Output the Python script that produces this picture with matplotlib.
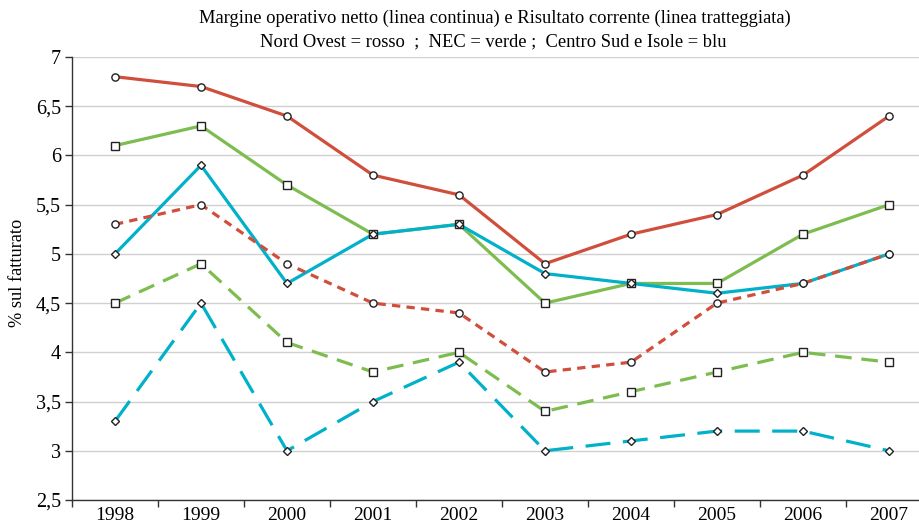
import matplotlib
matplotlib.use("Agg")
import matplotlib.pyplot as plt

years = ["1998", "1999", "2000", "2001", "2002", "2003", "2004", "2005", "2006", "2007"]

# margine operativo netto (solid)
mon_nord_ovest = [6.8, 6.7, 6.4, 5.8, 5.6, 4.9, 5.2, 5.4, 5.8, 6.4]
mon_nec = [6.1, 6.3, 5.7, 5.2, 5.3, 4.5, 4.7, 4.7, 5.2, 5.5]
mon_centro_sud = [5.0, 5.9, 4.7, 5.2, 5.3, 4.8, 4.7, 4.6, 4.7, 5.0]

# risultato corrente (dashed)
rc_nord_ovest = [5.3, 5.5, 4.9, 4.5, 4.4, 3.8, 3.9, 4.5, 4.7, 5.0]
rc_nec = [4.5, 4.9, 4.1, 3.8, 4.0, 3.4, 3.6, 3.8, 4.0, 3.9]
rc_centro_sud = [3.3, 4.5, 3.0, 3.5, 3.9, 3.0, 3.1, 3.2, 3.2, 3.0]

red = "#D04E3C"
green = "#7DBD50"
blue = "#00B1C9"

plt.rcParams['font.family'] = ['Liberation Serif', 'DejaVu Serif']
plt.rcParams['lines.scale_dashes'] = False

fig = plt.figure(figsize=(9.2, 5.26), dpi=100)
ax = fig.add_axes([72 / 920, 1 - 500 / 526, 860 / 920, 443 / 526])

x = list(range(len(years)))
lw = 2.3

series = [
    (mon_nord_ovest, red, "o", None),
    (mon_nec, green, "s", None),
    (mon_centro_sud, blue, "D", None),
    (rc_nord_ovest, red, "o", (6, 4.5)),
    (rc_nec, green, "s", (12, 7)),
    (rc_centro_sud, blue, "D", (18, 9)),
]

for vals, color, mk, dash in series:
    line, = ax.plot(x, vals, color=color, linewidth=lw, zorder=2)
    if dash is not None:
        line.set_dashes(dash)

for vals, color, mk, dash in series:
    size = 4.2 if mk == "D" else 5.2
    ax.plot(x, vals, linestyle="none", marker=mk, markersize=size,
            markerfacecolor="white", markeredgecolor="#222222",
            markeredgewidth=1.0, zorder=3)

ax.set_xlim(-0.5, len(years) - 0.5)
ax.set_ylim(2.5, 7)
ax.set_yticks([2.5, 3, 3.5, 4, 4.5, 5, 5.5, 6, 6.5, 7])
ax.set_yticklabels(["2,5", "3", "3,5", "4", "4,5", "5", "5,5", "6", "6,5", "7"], fontsize=14.5)
ax.set_xticks(x)
ax.set_xticklabels(years, fontsize=14)
ax.set_xticks([i + 0.5 for i in range(-1, len(years))], minor=True)
ax.tick_params(axis="x", which="major", length=0, pad=5)
ax.tick_params(axis="x", which="minor", length=5, width=1, color="#333333", direction="out")
ax.tick_params(axis="y", length=5, width=1, color="#333333", direction="out", pad=3)

ax.grid(axis="y", color="#D0D0D0", linewidth=1.0, zorder=0)
ax.set_axisbelow(True)
for side in ["top", "right"]:
    ax.spines[side].set_visible(False)
for side in ["left", "bottom"]:
    ax.spines[side].set_color("#333333")
    ax.spines[side].set_linewidth(1.0)

ax.set_ylabel("% sul fatturato", fontsize=13.2)
ax.yaxis.set_label_coords(-46 / 860, (500 - 273) / 443)

fig.text(495 / 920, 1 - 18 / 526, "Margine operativo netto (linea continua) e Risultato corrente (linea tratteggiata)",
         ha="center", va="center", fontsize=13.3)
fig.text(493 / 920, 1 - 42 / 526, "Nord Ovest = rosso  ;  NEC = verde ;  Centro Sud e Isole = blu",
         ha="center", va="center", fontsize=13.3)

fig.savefig("out.png", dpi=100)
